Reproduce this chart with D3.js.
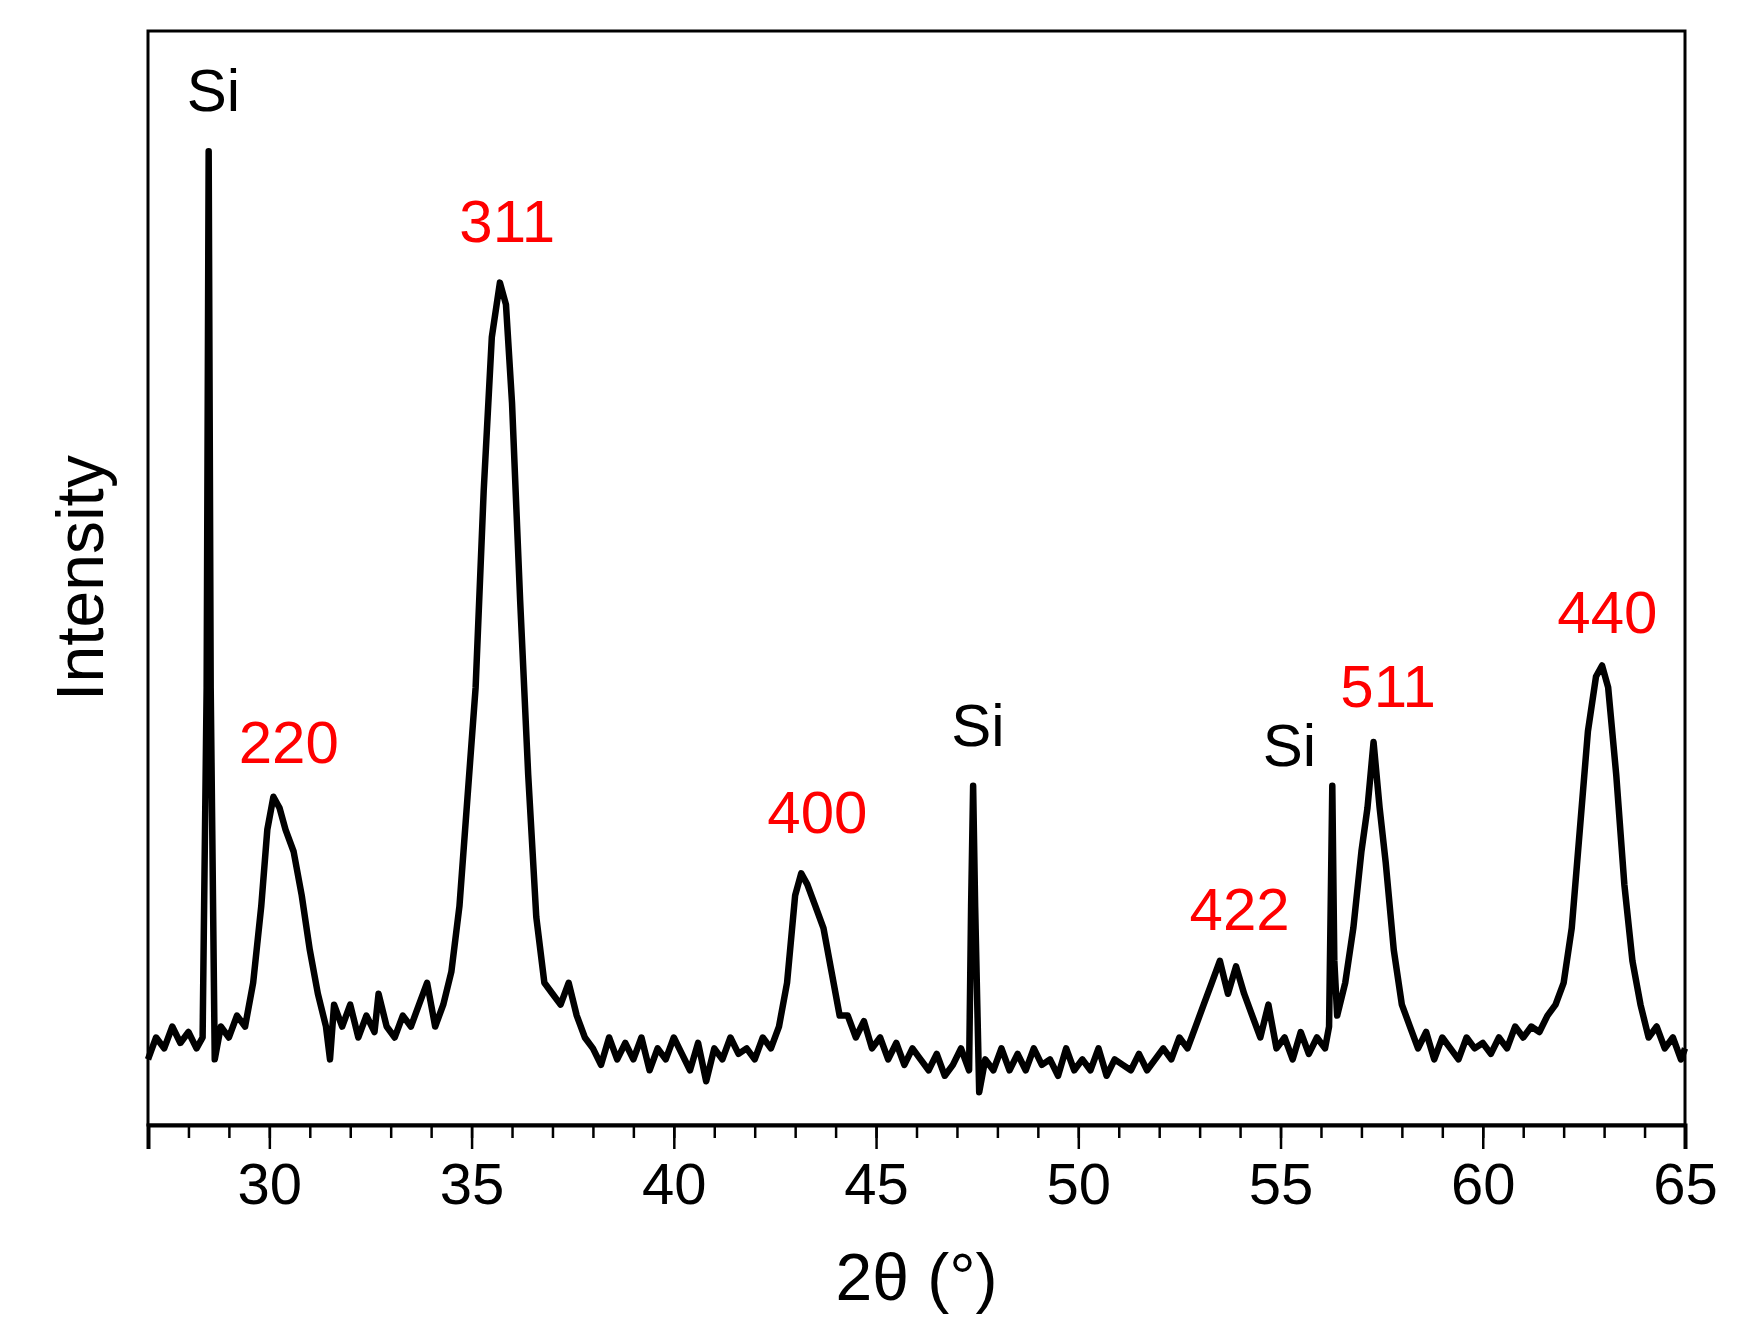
<!DOCTYPE html>
<html>
<head>
<meta charset="utf-8">
<script src="https://cdn.jsdelivr.net/npm/d3@7"></script>
<style>
  body { margin: 0; background: #fff; }
  text { font-family: "Liberation Sans", Arial, sans-serif; }
</style>
</head>
<body>
<div id="chart"></div>
<script>
// 2theta / intensity samples (arbitrary units)
const spectrum = [
  [27.0,6],[27.2,8],[27.4,7],[27.6,9],[27.8,7.5],[28.0,8.5],[28.2,7],[28.35,8],[28.45,40],[28.5,89],[28.55,40],[28.65,6],
  [28.8,9],[29.0,8],[29.2,10],[29.4,9],[29.6,13],[29.8,20],[29.95,27],[30.1,30],[30.25,29],[30.4,27],[30.6,25],[30.8,21],
  [31.0,16],[31.2,12],[31.4,9],[31.5,6],[31.6,11],[31.8,9],[32.0,11],[32.2,8],[32.4,10],[32.6,8.5],[32.7,12],[32.9,9],
  [33.1,8],[33.3,10],[33.5,9],[33.7,11],[33.9,13],[34.1,9],[34.3,11],[34.5,14],[34.7,20],[34.9,30],[35.1,40],[35.3,58],
  [35.5,72],[35.7,77],[35.85,75],[36.0,66],[36.2,48],[36.4,32],[36.6,19],[36.8,13],[37.0,12],[37.2,11],[37.4,13],[37.6,10],
  [37.8,8],[38.0,7],[38.2,5.5],[38.4,8],[38.6,6],[38.8,7.5],[39.0,6],[39.2,8],[39.4,5],[39.6,7],[39.8,6],[40.0,8],
  [40.2,6.5],[40.4,5],[40.6,7.5],[40.8,4],[41.0,7],[41.2,6],[41.4,8],[41.6,6.5],[41.8,7],[42.0,6],[42.2,8],[42.4,7],
  [42.6,9],[42.8,13],[43.0,21],[43.15,23],[43.3,22],[43.5,20],[43.7,18],[43.9,14],[44.1,10],[44.3,10],[44.5,8],[44.7,9.5],
  [44.9,7],[45.1,8],[45.3,6],[45.5,7.5],[45.7,5.5],[45.9,7],[46.1,6],[46.3,5],[46.5,6.5],[46.7,4.5],[46.9,5.5],[47.1,7],
  [47.3,5],[47.35,20],[47.4,31],[47.45,20],[47.55,3],[47.7,6],[47.9,5],[48.1,7],[48.3,5],[48.5,6.5],[48.7,5],[48.9,7],
  [49.1,5.5],[49.3,6],[49.5,4.5],[49.7,7],[49.9,5],[50.1,6],[50.3,5],[50.5,7],[50.7,4.5],[50.9,6],[51.1,5.5],[51.3,5],
  [51.5,6.5],[51.7,5],[51.9,6],[52.1,7],[52.3,6],[52.5,8],[52.7,7],[52.9,9],[53.1,11],[53.3,13],[53.5,15],[53.7,12],
  [53.9,14.5],[54.1,12],[54.3,10],[54.5,8],[54.7,11],[54.9,7],[55.1,8],[55.3,6],[55.5,8.5],[55.7,6.5],[55.9,8],[56.1,7],
  [56.2,9],[56.28,31],[56.33,15],[56.4,10],[56.6,13],[56.8,18],[57.0,25],[57.15,29],[57.3,35],[57.45,29],[57.6,24],[57.8,16],
  [58.0,11],[58.2,9],[58.4,7],[58.6,8.5],[58.8,6],[59.0,8],[59.2,7],[59.4,6],[59.6,8],[59.8,7],[60.0,7.5],[60.2,6.5],
  [60.4,8],[60.6,7],[60.8,9],[61.0,8],[61.2,9],[61.4,8.5],[61.6,10],[61.8,11],[62.0,13],[62.2,18],[62.4,27],[62.6,36],
  [62.8,41],[62.95,42],[63.1,40],[63.3,32],[63.5,22],[63.7,15],[63.9,11],[64.1,8],[64.3,9],[64.5,7],[64.7,8],[64.9,6],[65.0,7]
];

// peak labels: text, 2theta, intensity where text baseline sits, colour
const peakText = ["Si", "220", "311", "400", "Si", "422", "Si", "511", "440"];
const peakX = [28.62, 30.48, 35.88, 43.55, 47.52, 53.99, 55.22, 57.66, 63.08];
const peakY = [92.7, 33.1, 80.7, 26.7, 34.6, 17.8, 32.8, 38.2, 45.0];
const peakIsSi = [true, false, false, false, true, false, true, false, false];

const xTicks = [30, 35, 40, 45, 50, 55, 60, 65];

const width = 1738, height = 1332;
const margin = { left: 148, right: 53, top: 31, bottom: 207 };

const svg = d3.select("#chart").append("svg")
  .attr("width", width).attr("height", height);

const x = d3.scaleLinear().domain([27, 65]).range([margin.left, width - margin.right]);
const y = d3.scaleLinear().domain([0, 100]).range([height - margin.bottom, margin.top]);

svg.append("path")
  .datum(spectrum)
  .attr("fill", "none")
  .attr("stroke", "#000")
  .attr("stroke-width", 6.5)
  .attr("stroke-linejoin", "round")
  .attr("d", d3.line().x(d => x(d[0])).y(d => y(d[1])));

svg.append("rect")
  .attr("x", margin.left).attr("y", margin.top)
  .attr("width", width - margin.left - margin.right)
  .attr("height", height - margin.top - margin.bottom)
  .attr("fill", "none").attr("stroke", "#000").attr("stroke-width", 3);

const xMinor = d3.axisBottom(x).tickValues(d3.range(27, 66, 1)).tickSize(13).tickFormat("");
svg.append("g").attr("transform", `translate(0,${y(0)})`).call(xMinor)
  .call(g => g.select(".domain").remove())
  .selectAll("line").attr("stroke-width", 2.5);

const xAxis = d3.axisBottom(x).tickValues(xTicks).tickSize(24).tickPadding(14);
svg.append("g").attr("transform", `translate(0,${y(0)})`).call(xAxis)
  .call(g => g.select(".domain").attr("stroke-width", 4))
  .call(g => g.selectAll("line").attr("stroke-width", 2.5))
  .call(g => g.selectAll("text").attr("font-size", 58).attr("fill", "#000"));

svg.append("text")
  .attr("x", x(46)).attr("y", 1300)
  .attr("text-anchor", "middle").attr("font-size", 66)
  .text("2θ  (°)");

svg.append("text")
  .attr("transform", `translate(103,${(y(0) + y(100)) / 2}) rotate(-90)`)
  .attr("text-anchor", "middle").attr("font-size", 66)
  .text("Intensity");

svg.selectAll(".peak").data(peakText).enter().append("text")
  .attr("class", "peak")
  .attr("x", (d, i) => x(peakX[i]))
  .attr("y", (d, i) => y(peakY[i]))
  .attr("text-anchor", "middle")
  .attr("font-size", 60)
  .attr("fill", (d, i) => peakIsSi[i] ? "#000" : "#ff0000")
  .text(d => d);
</script>
</body>
</html>
